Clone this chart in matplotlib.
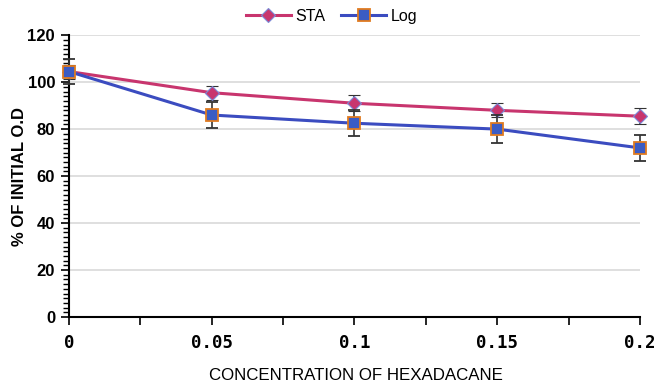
import matplotlib
matplotlib.use("Agg")
import matplotlib.pyplot as plt
from matplotlib.ticker import MultipleLocator, FixedLocator
from matplotlib.lines import Line2D

conc = [0, 0.05, 0.1, 0.15, 0.2]
sta = [104.5, 95.5, 91.0, 88.0, 85.5]
sta_err = [3.0, 3.0, 3.5, 3.0, 3.5]
log = [104.5, 86.0, 82.5, 80.0, 72.0]
log_err = [5.5, 5.5, 5.5, 6.0, 5.5]
xtick_labels = ["0", "0.05", "0.1", "0.15", "0.2"]

STA_C = "#c8356e"
LOG_C = "#3b4cc0"

fig = plt.figure(figsize=(6.57, 3.82), dpi=100)
ax = fig.add_axes([0.105, 0.170, 0.869, 0.738])

ax.errorbar(conc, sta, yerr=sta_err, color=STA_C, lw=2.2, marker="D", ms=7,
            mfc=STA_C, mec="#7c8ad8", mew=0.8, ecolor="#333333", elinewidth=1.2,
            capsize=4, capthick=1.2, clip_on=False, zorder=3)
ax.errorbar(conc, log, yerr=log_err, color=LOG_C, lw=2.2, marker="s", ms=9,
            mfc="#3b5cc4", mec="#e07b20", mew=1.3, ecolor="#333333", elinewidth=1.2,
            capsize=4, capthick=1.2, clip_on=False, zorder=4)

ax.set_xlim(0, 0.2)
ax.set_ylim(0, 120)
ax.yaxis.set_major_locator(MultipleLocator(20))
ax.yaxis.set_minor_locator(MultipleLocator(2))
ax.xaxis.set_major_locator(FixedLocator(conc))
ax.xaxis.set_minor_locator(MultipleLocator(0.025))
ax.set_xticklabels(xtick_labels)
ax.grid(axis="y", color="#d9d9d9", lw=1.2)
ax.set_axisbelow(True)
for s in ["top", "right"]:
    ax.spines[s].set_visible(False)
ax.spines["left"].set_linewidth(1.5)
ax.spines["bottom"].set_linewidth(1.5)
ax.tick_params(axis="y", which="major", length=6, width=1.2, direction="out", labelsize=12, pad=4)
ax.tick_params(axis="y", which="minor", length=4, width=1.0, direction="out")
ax.tick_params(axis="x", which="both", length=6, width=1.2, direction="out", labelsize=12.5, pad=6)
for lbl in ax.get_yticklabels():
    lbl.set_fontweight("bold")
    lbl.set_family("Liberation Sans")
for lbl in ax.get_xticklabels():
    lbl.set_fontweight("bold")
    lbl.set_family("DejaVu Sans Mono")

fig.text(20 / 657, 1 - 177 / 382, "% OF INITIAL O.D", rotation=90, fontsize=12,
         fontweight="bold", family="Liberation Sans", ha="center", va="center")
fig.text(356 / 657, 1 - 375 / 382, "CONCENTRATION OF HEXADACANE", fontsize=12.2,
         family="Liberation Sans", ha="center", va="center")

handles = [
    Line2D([], [], color=STA_C, lw=2.2, marker="D", ms=7, mfc=STA_C, mec="#7c8ad8", mew=0.8),
    Line2D([], [], color=LOG_C, lw=2.2, marker="s", ms=8, mfc="#3b5cc4", mec="#e07b20", mew=1.3),
]
ax.legend(handles, ["STA", "Log"], loc="lower center", bbox_to_anchor=(0.46, 1.0), ncol=2,
          frameon=False, prop={"family": "Liberation Sans", "size": 11.5},
          handlelength=2.8, columnspacing=1.0, borderaxespad=0.3, handletextpad=0.3)

fig.savefig("out.png", dpi=100)
